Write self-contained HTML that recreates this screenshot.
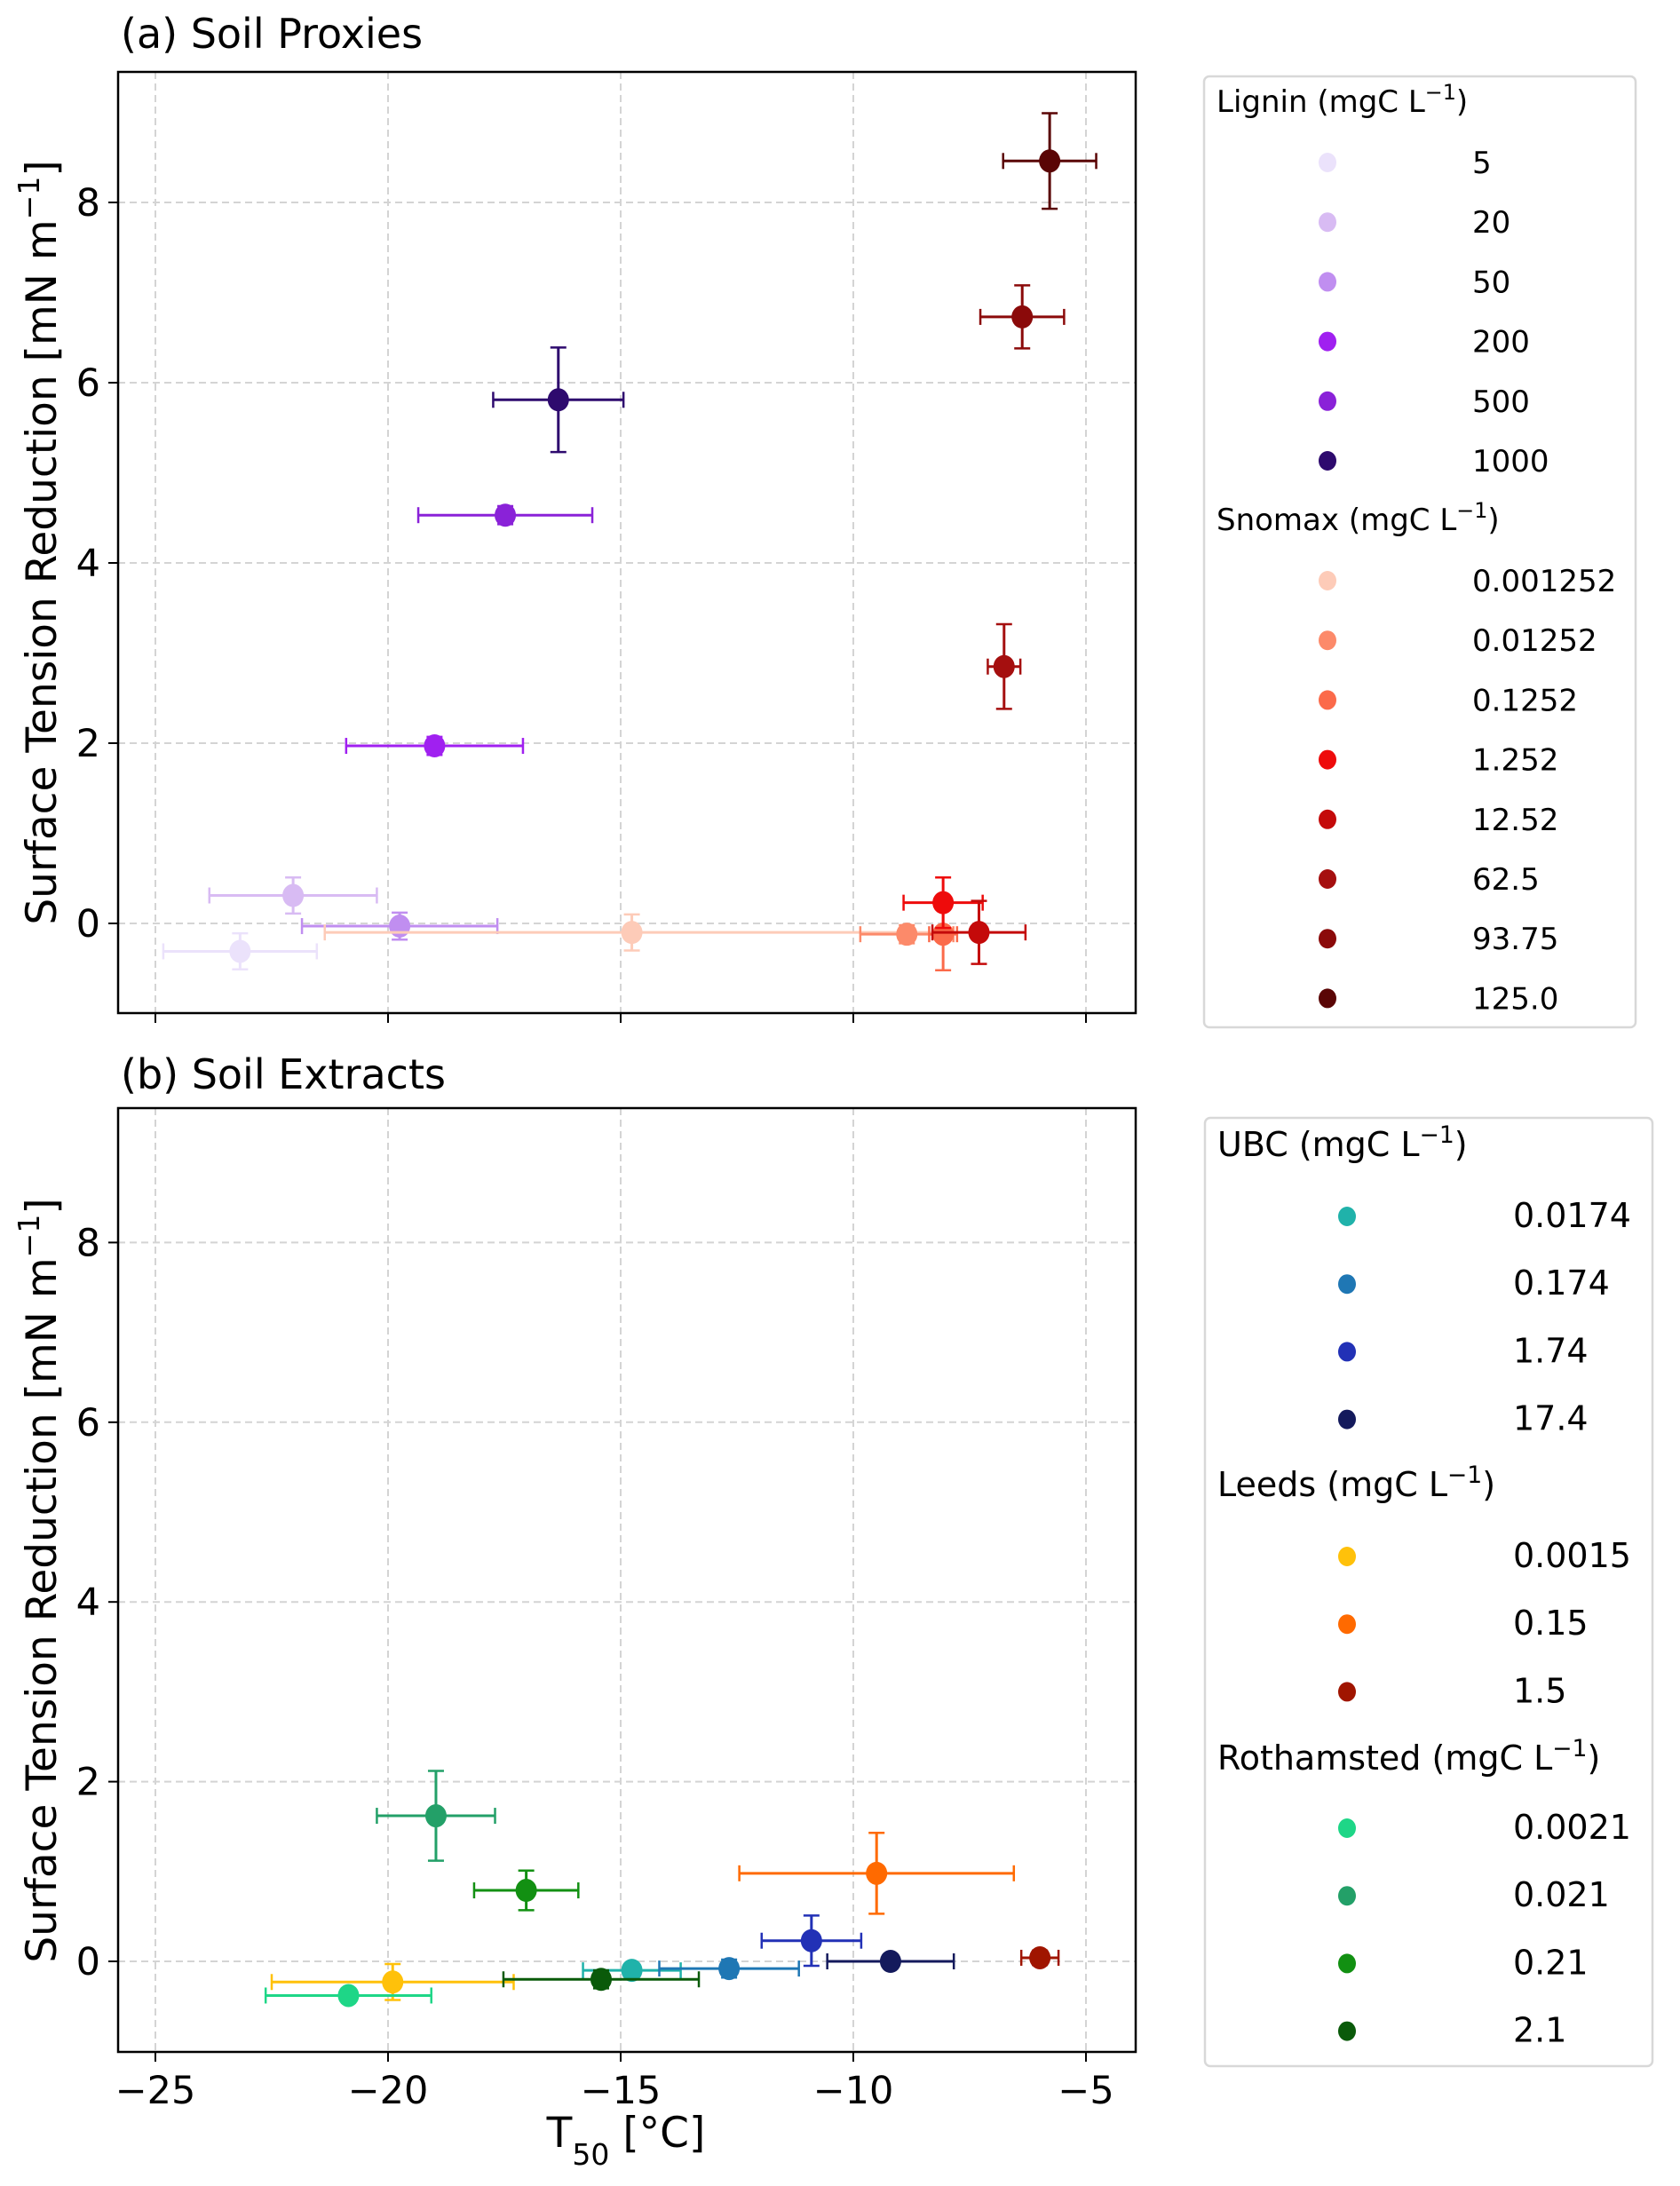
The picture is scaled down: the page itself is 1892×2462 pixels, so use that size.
<!DOCTYPE html>
<html><head><meta charset="utf-8">
<style>
html,body{margin:0;padding:0;background:#fff;}
svg{display:block;font-family:"DejaVu Sans","Liberation Sans",sans-serif;}
</style></head>
<body>
<svg id="fig" width="1892" height="2462" viewBox="0 0 1892 2462" xmlns="http://www.w3.org/2000/svg">
<rect width="1892" height="2462" fill="#fff"/>
<text x="136" y="54" font-size="46" fill="#000">(a) Soil Proxies</text>
<text x="136" y="1226" font-size="46" fill="#000">(b) Soil Extracts</text>
<text transform="translate(63,611) rotate(-90)" text-anchor="middle" font-size="47">Surface Tension Reduction [mN m<tspan baseline-shift="super" font-size="33">−1</tspan>]</text>
<text transform="translate(63,1780) rotate(-90)" text-anchor="middle" font-size="47">Surface Tension Reduction [mN m<tspan baseline-shift="super" font-size="33">−1</tspan>]</text>
<text x="705" y="2418" text-anchor="middle" font-size="47">T<tspan baseline-shift="sub" font-size="33">50</tspan> [°C]</text>
<g id="pa"></g><g id="pb"></g><g id="la"></g><g id="lb"></g>
</svg>
<script>
const xTicks=[-25,-20,-15,-10,-5];
const yTicks=[0,2,4,6,8];
// Panel a
const ligninLabels=["5","20","50","200","500","1000"];
const ligninX=[-23.18,-22.04,-19.75,-19.0,-17.48,-16.34];
const ligninY=[-0.31,0.31,-0.03,1.97,4.53,5.81];
const ligninXerr=[1.65,1.8,2.1,1.9,1.87,1.4];
const ligninYerr=[0.2,0.2,0.15,0.1,0.1,0.58];
const ligninColors=["#ebe2fb","#d8bbf3","#c08ef0","#a020f0","#8a22d8","#2e0a6e"];
const snomaxLabels=["0.001252","0.01252","0.1252","1.252","12.52","62.5","93.75","125.0"];
const snomaxX=[-14.76,-8.85,-8.07,-8.07,-7.3,-6.76,-6.37,-5.78];
const snomaxY=[-0.1,-0.12,-0.12,0.23,-0.1,2.85,6.73,8.46];
const snomaxXerr=[6.6,1.0,0.3,0.85,1.0,0.35,0.9,1.0];
const snomaxYerr=[0.2,0.1,0.4,0.28,0.35,0.47,0.35,0.53];
const snomaxColors=["#fdcbb8","#fc8a6a","#fb6a4a","#ee0b0b","#c40a0a","#a50f0f","#8b0a0a","#5a0505"];
// Panel b
const ubcLabels=["0.0174","0.174","1.74","17.4"];
const ubcX=[-14.76,-12.67,-10.9,-9.2];
const ubcY=[-0.1,-0.08,0.23,0.0];
const ubcXerr=[1.05,1.5,1.07,1.36];
const ubcYerr=[0.05,0.1,0.28,0.05];
const ubcColors=["#20b2aa","#1f77b4","#2231b6","#141a5c"];
const leedsLabels=["0.0015","0.15","1.5"];
const leedsX=[-19.9,-9.5,-5.99];
const leedsY=[-0.23,0.98,0.04];
const leedsXerr=[2.6,2.95,0.4];
const leedsYerr=[0.2,0.45,0.08];
const leedsColors=["#ffc10a","#ff6a00","#a01500"];
const rothLabels=["0.0021","0.021","0.21","2.1"];
const rothX=[-20.85,-18.97,-17.03,-15.42];
const rothY=[-0.38,1.62,0.79,-0.2];
const rothXerr=[1.78,1.27,1.12,2.1];
const rothYerr=[0.05,0.5,0.22,0.1];
const rothColors=["#1ed687","#23a068","#129012","#0a5a0a"];

const NS="http://www.w3.org/2000/svg";
function mk(parent,tag,attrs){const e=document.createElementNS(NS,tag);for(const k in attrs)e.setAttribute(k,attrs[k]);parent.appendChild(e);return e;}
function sx(v){return 175+(v+25)*52.4;}

function panel(g,top,bottom,y0,yPer,showXLabels,name){
  const left=133,right=1279;
  const sy=v=>y0-v*yPer;
  xTicks.forEach(t=>{
    const l=mk(g,'line',{x1:sx(t),x2:sx(t),y1:top,y2:bottom,stroke:'#d4d4d4','stroke-width':2,'stroke-dasharray':'8,5'});
    
    
    const tk=mk(g,'line',{x1:sx(t),x2:sx(t),y1:bottom,y2:bottom+11,stroke:'#000','stroke-width':2});
    
    
    if(showXLabels){
      const tx=mk(g,'text',{x:sx(t),y:bottom+58,'text-anchor':'middle','font-size':43});
      tx.textContent=String(t).replace('-','−');
      
      
    }
  });
  yTicks.forEach(t=>{
    const l=mk(g,'line',{x1:left,x2:right,y1:sy(t),y2:sy(t),stroke:'#d4d4d4','stroke-width':2,'stroke-dasharray':'8,5'});
    
    
    const tk=mk(g,'line',{x1:left-11,x2:left,y1:sy(t),y2:sy(t),stroke:'#000','stroke-width':2});
    
    
    const tx=mk(g,'text',{x:left-20,y:sy(t)+15,'text-anchor':'end','font-size':43});
    tx.textContent=String(t);
    
    
  });
  const fr=mk(g,'rect',{x:left,y:top,width:right-left,height:bottom-top,fill:'none',stroke:'#000','stroke-width':2.5});
  
  
  return sy;
}
function series(g,sy,xs,ys,xe,ye,cols,name){
  xs.forEach((x,i)=>{
    const c=cols[i],px=sx(x),py=sy(ys[i]);
    const gg=mk(g,'g',{});
    
    
    const x1=sx(x-xe[i]),x2=sx(x+xe[i]),y1=sy(ys[i]+ye[i]),y2=sy(ys[i]-ye[i]);
    mk(gg,'line',{x1:x1,x2:x2,y1:py,y2:py,stroke:c,'stroke-width':3});
    mk(gg,'line',{x1:x1,x2:x1,y1:py-9,y2:py+9,stroke:c,'stroke-width':2.5});
    mk(gg,'line',{x1:x2,x2:x2,y1:py-9,y2:py+9,stroke:c,'stroke-width':2.5});
    mk(gg,'line',{x1:px,x2:px,y1:y1,y2:y2,stroke:c,'stroke-width':3});
    mk(gg,'line',{x1:px-9,x2:px+9,y1:y1,y2:y1,stroke:c,'stroke-width':2.5});
    mk(gg,'line',{x1:px-9,x2:px+9,y1:y2,y2:y2,stroke:c,'stroke-width':2.5});
    mk(gg,'ellipse',{cx:px,cy:py,rx:12,ry:13,fill:c});
  });
}
function legend(g,box,groups,mx,tx,fs){
  const r=mk(g,'rect',{x:box[0],y:box[1],width:box[2],height:box[3],rx:6,fill:'#fff',stroke:'#d8d8d8','stroke-width':2.5});
  
  
  groups.forEach(gr=>{
    const t=mk(g,'text',{x:box[0]+14,y:gr.ty+12,'font-size':fs});
    t.innerHTML=gr.title+' (mgC L<tspan baseline-shift="super" font-size="'+(fs*0.7)+'">−1</tspan>)';
    
    
    gr.labels.forEach((lb,i)=>{
      const y=gr.y0+i*gr.dy;
      const e=mk(g,'g',{});
      
      
      mk(e,'ellipse',{cx:mx,cy:y,rx:10,ry:11,fill:gr.colors[i]});
      const tt=mk(e,'text',{x:tx,y:y+12,'font-size':fs});
      tt.textContent=lb;
    });
  });
}
const pa=document.getElementById('pa'),pb=document.getElementById('pb');
const sya=panel(pa,81,1141,1040,101.5,false,'panel-a');
series(pa,sya,ligninX,ligninY,ligninXerr,ligninYerr,ligninColors,'lignin');
series(pa,sya,snomaxX,snomaxY,snomaxXerr,snomaxYerr,snomaxColors,'snomax');
const syb=panel(pb,1248,2311,2209,101.2,true,'panel-b');
series(pb,syb,ubcX,ubcY,ubcXerr,ubcYerr,ubcColors,'ubc');
series(pb,syb,leedsX,leedsY,leedsXerr,leedsYerr,leedsColors,'leeds');
series(pb,syb,rothX,rothY,rothXerr,rothYerr,rothColors,'rothamsted');
legend(document.getElementById('la'),[1356,86,486,1071],[
 {title:'Lignin',ty:114,y0:183,dy:67.2,labels:ligninLabels,colors:ligninColors},
 {title:'Snomax',ty:585,y0:654,dy:67.2,labels:snomaxLabels,colors:snomaxColors}
],1495,1658,34);
legend(document.getElementById('lb'),[1357,1259,504,1068],[
 {title:'UBC',ty:1290,y0:1370,dy:76.2,labels:ubcLabels,colors:ubcColors},
 {title:'Leeds',ty:1673,y0:1753,dy:76.2,labels:leedsLabels,colors:leedsColors},
 {title:'Rothamsted',ty:1981,y0:2059,dy:76.2,labels:rothLabels,colors:rothColors}
],1517,1704,38);
</script>
</body></html>
